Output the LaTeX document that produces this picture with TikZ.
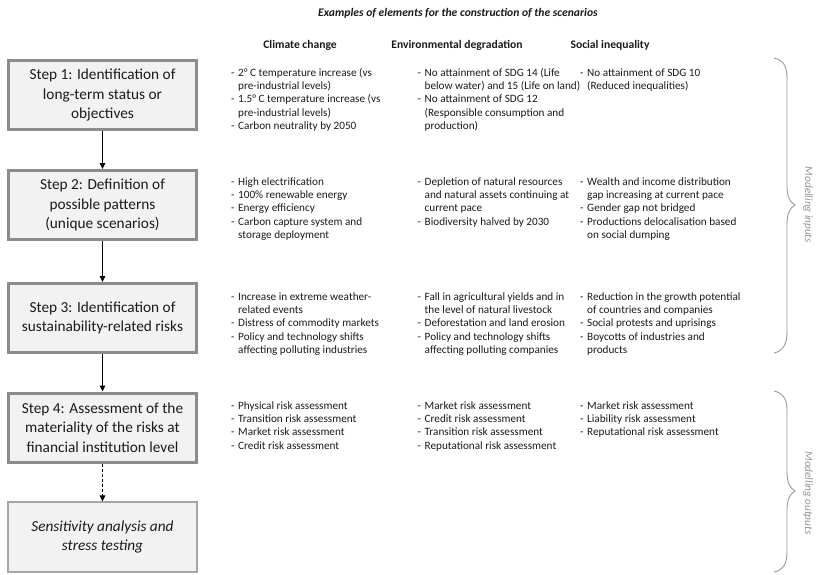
\documentclass[tikz,border=0pt]{standalone}
\usepackage{fontspec}
\setmainfont{Carlito}
\usetikzlibrary{arrows.meta}

\definecolor{boxfill}{HTML}{F2F2F2}
\definecolor{boxline}{HTML}{8C8C8C}
\definecolor{softline}{HTML}{A6A6A6}
\definecolor{bracecol}{HTML}{9A9A9A}
\definecolor{labelcol}{HTML}{959595}
\definecolor{txt}{HTML}{1A1A1A}

% list helpers: a dash item and a continuation line with hanging indent
\newcommand{\dsh}{\makebox[7pt][l]{-}}
\newcommand{\cnt}{\hspace*{7pt}}
\newcommand{\celltab}[1]{\begin{tabular}[t]{@{}l@{}}#1\end{tabular}}

\begin{document}
\begin{tikzpicture}[x=1pt,y=-1pt,
  stepbox/.style={draw=boxline, line width=3pt, fill=boxfill,
    minimum width=188pt, minimum height=69pt, align=center, inner sep=0pt,
    font=\fontsize{15.3}{19.3}\selectfont, text=txt},
  endbox/.style={draw=softline, line width=1.2pt, fill=boxfill,
    minimum width=189pt, minimum height=70pt, align=center, inner sep=0pt,
    font=\fontsize{15.3}{19.3}\selectfont\itshape, text=txt},
  cell/.style={anchor=base west, inner sep=0pt, text=txt,
    font=\fontsize{11.2}{13.4}\selectfont},
  colhead/.style={anchor=base, inner sep=0pt, text=txt,
    font=\fontsize{11.6}{14}\selectfont\bfseries},
  flow/.style={-{Triangle[length=6pt,width=5.5pt]}, line width=1.3pt, black},
  bracepath/.style={draw=bracecol, line width=0.9pt},
  sidelabel/.style={rotate=-90, text=labelcol, inner sep=0pt,
    font=\fontsize{11.2}{13.4}\selectfont\itshape}
]
\useasboundingbox (0,0) rectangle (821,574);

% ---- titles ----
\node[anchor=base, inner sep=0pt, text=txt,
  font=\fontsize{11.6}{14}\selectfont\bfseries\itshape] (title) at (458,16)
  {Examples of elements for the construction of the scenarios};
\node[colhead] (hclim) at (300,48) {Climate change};
\node[colhead] (henv)  at (457,48) {Environmental degradation};
\node[colhead] (hsoc)  at (610,48) {Social inequality};

% ---- process steps ----
\node[stepbox] (s1) at (102.5,95)  {Step 1: Identification of\\long-term status or\\objectives};
\node[stepbox] (s2) at (102.5,205) {Step 2: Definition of\\possible patterns\\(unique scenarios)};
\node[stepbox] (s3) at (102.5,318) {Step 3: Identification of\\sustainability-related risks};
\node[stepbox] (s4) at (102.5,427.5) {Step 4: Assessment of the\\materiality of the risks at\\financial institution level};
\node[endbox]  (s5) at (102.5,537) {Sensitivity analysis and\\stress testing};

\draw[flow] (s1.south) -- (s2.north);
\draw[flow] (s2.south) -- (s3.north);
\draw[flow] (s3.south) -- (s4.north);
\draw[flow, dashed, dash pattern=on 3pt off 2pt] (s4.south) -- (s5.north);

% ---- row 1: long-term status ----
\node[cell] (r1a) at (231,76) {\celltab{%
  \dsh 2° C temperature increase (vs\\
  \cnt pre-industrial levels)\\
  \dsh 1.5° C temperature increase (vs\\
  \cnt pre-industrial levels)\\
  \dsh Carbon neutrality by 2050}};
\node[cell] (r1b) at (417.5,76) {\celltab{%
  \dsh No attainment of SDG 14 (Life\\
  \cnt below water) and 15 (Life on land)\\
  \dsh No attainment of SDG 12\\
  \cnt (Responsible consumption and\\
  \cnt production)}};
\node[cell] (r1c) at (580,76) {\celltab{%
  \dsh No attainment of SDG 10\\
  \cnt (Reduced inequalities)}};

% ---- row 2: patterns ----
\node[cell] (r2a) at (231,185) {\celltab{%
  \dsh High electrification\\
  \dsh 100\% renewable energy\\
  \dsh Energy efficiency\\
  \dsh Carbon capture system and\\
  \cnt storage deployment}};
\node[cell] (r2b) at (417.5,185) {\celltab{%
  \dsh Depletion of natural resources\\
  \cnt and natural assets continuing at\\
  \cnt current pace\\
  \dsh Biodiversity halved by 2030}};
\node[cell] (r2c) at (580,185) {\celltab{%
  \dsh Wealth and income distribution\\
  \cnt gap increasing at current pace\\
  \dsh Gender gap not bridged\\
  \dsh Productions delocalisation based\\
  \cnt on social dumping}};

% ---- row 3: risks ----
\node[cell] (r3a) at (231,300) {\celltab{%
  \dsh Increase in extreme weather-\\
  \cnt related events\\
  \dsh Distress of commodity markets\\
  \dsh Policy and technology shifts\\
  \cnt affecting polluting industries}};
\node[cell] (r3b) at (417.5,300) {\celltab{%
  \dsh Fall in agricultural yields and in\\
  \cnt the level of natural livestock\\
  \dsh Deforestation and land erosion\\
  \dsh Policy and technology shifts\\
  \cnt affecting polluting companies}};
\node[cell] (r3c) at (580,300) {\celltab{%
  \dsh Reduction in the growth potential\\
  \cnt of countries and companies\\
  \dsh Social protests and uprisings\\
  \dsh Boycotts of industries and\\
  \cnt products}};

% ---- row 4: assessments ----
\node[cell] (r4a) at (231,409) {\celltab{%
  \dsh Physical risk assessment\\
  \dsh Transition risk assessment\\
  \dsh Market risk assessment\\
  \dsh Credit risk assessment}};
\node[cell] (r4b) at (417.5,409) {\celltab{%
  \dsh Market risk assessment\\
  \dsh Credit risk assessment\\
  \dsh Transition risk assessment\\
  \dsh Reputational risk assessment}};
\node[cell] (r4c) at (580,409) {\celltab{%
  \dsh Market risk assessment\\
  \dsh Liability risk assessment\\
  \dsh Reputational risk assessment}};

% ---- side braces ----
\draw[bracepath] (774,58) .. controls (783,60) and (787,66) .. (787,78)
  -- (787,186) .. controls (787,197) and (790,202) .. (795,205)
  .. controls (790,208) and (787,213) .. (787,224)
  -- (787,332) .. controls (787,344) and (783,351) .. (774,353);
\node[sidelabel] (inl) at (808,205) {Modelling inputs};

\draw[bracepath] (774,391) .. controls (783,393) and (787,399) .. (787,410)
  -- (787,472) .. controls (787,483) and (790,488) .. (795,491)
  .. controls (790,494) and (787,499) .. (787,510)
  -- (787,552) .. controls (787,564) and (783,570) .. (774,572);
\node[sidelabel] (outl) at (808,493) {Modelling outputs};
\end{tikzpicture}
\end{document}
